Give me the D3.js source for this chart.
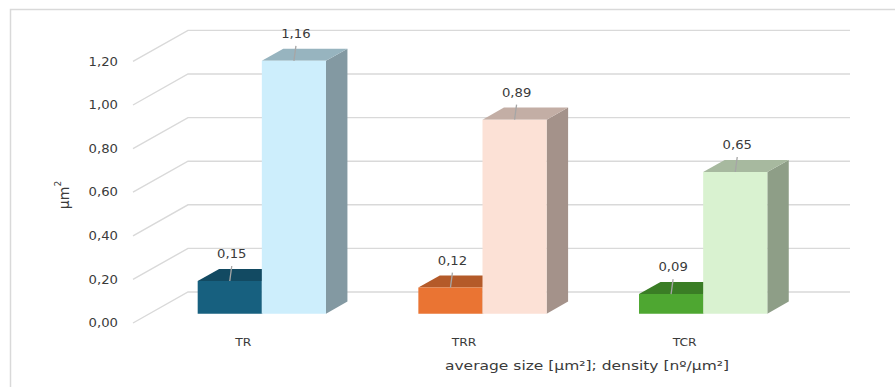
<!DOCTYPE html>
<html>
<head>
<meta charset="utf-8">
<script src="https://cdn.jsdelivr.net/npm/d3@7"></script>
<style>
  html, body { margin: 0; padding: 0; background: #ffffff; }
  svg { display: block; }
  text { font-family: "DejaVu Sans", Verdana, sans-serif; fill: #3a3a3a; }
</style>
</head>
<body>
<svg id="chart" width="895" height="387"></svg>
<script>
// Samples and the two measured quantities per sample
const categories = ["TR", "TRR", "TCR"];
const densityValues = [0.15, 0.12, 0.09];
const sizeValues = [1.16, 0.89, 0.65];
const yTickValues = [0, 0.2, 0.4, 0.6, 0.8, 1.0, 1.2];

// Face colours: [front, top, side] for each sample, dark and light series
const darkFaces = [
  ["#17607f", "#124a62", "#0f3d52"],
  ["#ea7433", "#b45a29", "#9a4c22"],
  ["#4ea731", "#3a7d25", "#30681f"]
];
const lightFaces = [
  ["#cdeefc", "#97b4bf", "#8399a2"],
  ["#fce1d6", "#c3aea5", "#a4928a"],
  ["#d9f2d0", "#a7b99f", "#8e9e87"]
];

const svg = d3.select("#chart");
const fmt = v => d3.format(".2f")(v).replace(".", ",");

// Oblique projection: depth z in [0,1] moves points right and up
const DX = 55, DY = 31;
const proj = (x, y, z) => [x + z * DX, y - z * DY];
const zFront = 0.30, zBack = 0.69;

const x = d3.scaleBand().domain(categories).range([135, 797]);
const inner = d3.scaleBand().domain([0, 1]).range([0, x.bandwidth()]).paddingOuter(0.72);
const y = d3.scaleLinear().domain([0, 1.2]).range([323, 61.4]);

// Outer frame
svg.append("rect")
  .attr("x", 10.5).attr("y", 9.5).attr("width", 900).attr("height", 400)
  .attr("fill", "none").attr("stroke", "#d9d9d9").attr("stroke-width", 1.5);

// Back wall grid and the slanted lines joining it to the tick marks
const grid = svg.append("g").attr("stroke", "#d9d9d9").attr("stroke-width", 1.4).attr("fill", "none");
yTickValues.forEach(v => {
  const x0 = 133, x1 = 795;
  const a = [x0, y(v)];
  const b = proj(x0, y(v), 1);
  const c = proj(x1, y(v), 1);
  grid.append("path").attr("d", d3.line()([a, b, c]));
});

// Horizontally widened text helper
function label(g, tx, ty, str, opts = {}) {
  return g.append("text")
    .attr("transform", `translate(${tx},${ty}) scale(${opts.sx || 1.12},1)`)
    .attr("text-anchor", opts.anchor || "middle")
    .attr("dominant-baseline", "central")
    .style("font-size", (opts.size || 12) + "px")
    .text(str);
}

// Y tick labels
const axisG = svg.append("g");
yTickValues.forEach(v => label(axisG, 118, y(v), fmt(v), { anchor: "end", size: 12, sx: 1.1 }));

// Y axis title
const yTitle = svg.append("text")
  .attr("transform", "translate(64,195) rotate(-90)")
  .attr("text-anchor", "middle")
  .attr("dominant-baseline", "central")
  .style("font-size", "14px");
yTitle.append("tspan").text("µm");
yTitle.append("tspan").attr("dy", -6).style("font-size", "9px").text("2");

// 3D box: side, top and front faces
function box(g, x0, x1, v, faces) {
  const yb = y(0), yt = y(v);
  const f = [proj(x0, yb, zFront), proj(x1, yb, zFront), proj(x1, yt, zFront), proj(x0, yt, zFront)];
  const top = [proj(x0, yt, zFront), proj(x1, yt, zFront), proj(x1, yt, zBack), proj(x0, yt, zBack)];
  const side = [proj(x1, yb, zFront), proj(x1, yb, zBack), proj(x1, yt, zBack), proj(x1, yt, zFront)];
  const poly = pts => "M" + pts.map(p => p.join(",")).join("L") + "Z";
  g.append("path").attr("d", poly(side)).attr("fill", faces[2]);
  g.append("path").attr("d", poly(top)).attr("fill", faces[1]);
  g.append("path").attr("d", poly(f)).attr("fill", faces[0]);
  return f;
}

const bars = svg.append("g");
const labels = svg.append("g");
categories.forEach((cat, i) => {
  const bx = x(cat);
  const series = [
    { v: densityValues[i], faces: darkFaces[i], k: 0 },
    { v: sizeValues[i], faces: lightFaces[i], k: 1 }
  ];
  series.forEach(s => {
    const x0 = bx + inner(s.k), x1 = x0 + inner.bandwidth();
    const f = box(bars, x0, x1, s.v, s.faces);
    const cx = (f[0][0] + f[1][0]) / 2;
    const ty = f[2][1];
    labels.append("line")
      .attr("x1", cx + 2).attr("y1", ty - 15)
      .attr("x2", cx).attr("y2", ty)
      .attr("stroke", "#a6a6a6").attr("stroke-width", 1.3);
    label(labels, cx + 2, ty - 27, fmt(s.v), { size: 12, sx: 1.1 });
  });
  label(svg, x(cat) + x.bandwidth() / 2 - 2, 342, cat, { size: 11, sx: 1.12 });
});

// X axis title
label(svg, 587, 366, "average size [µm²]; density [nº/µm²]", { size: 12.5, sx: 1.24 });
</script>
</body>
</html>
